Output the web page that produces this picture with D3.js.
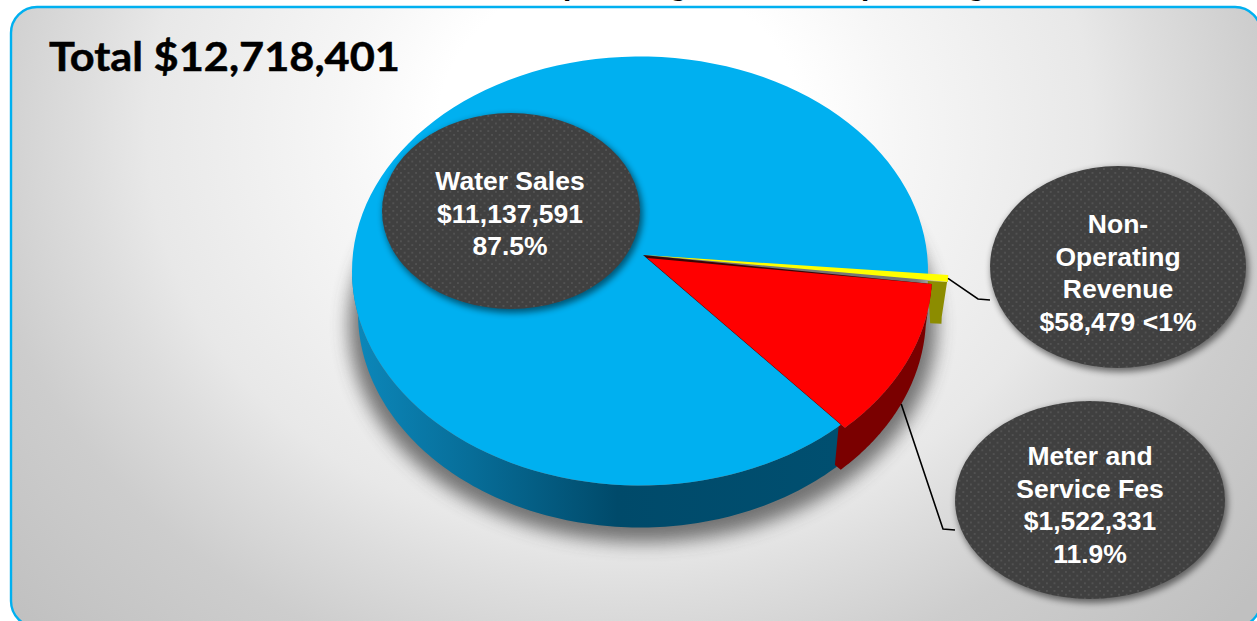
<!DOCTYPE html>
<html>
<head>
<meta charset="utf-8">
<script src="https://cdn.jsdelivr.net/npm/d3@7/dist/d3.min.js"></script>
<style>
html,body{margin:0;padding:0;background:#fff;overflow:hidden}
svg{display:block}
</style>
</head>
<body>
<svg id="chart" width="1257" height="621"></svg>
<script>
// Revenue sources, in the order the slices run clockwise from the right-hand edge
const categories = ["Non-Operating Revenue", "Meter and Service Fes", "Water Sales"];
const revenues = [58479, 1522331, 11137591];
const percentLabels = ["<1%", "11.9%", "87.5%"];
const sliceColors = ["#ffff00", "#ff0000", "#00b0f0"];
const wallColors = ["#8c8c00", "#7a0000", "url(#blueWall)"];
const totalLabel = "Total $12,718,401";
const headingLabel = "Operating and Non-Operating Revenue";

const fmt = d3.format("$,");
const deg = Math.PI / 180;
const svg = d3.select("#chart");
const defs = svg.append("defs");

// Panel gradient: white near the upper middle, grey toward the corners
const bg = defs.append("radialGradient").attr("id", "panelFill")
  .attr("gradientUnits", "userSpaceOnUse")
  .attr("cx", 0).attr("cy", 0).attr("r", 1)
  .attr("gradientTransform", "translate(620,130) scale(830,720)");
[[0, "#ffffff"], [0.22, "#ffffff"], [0.34, "#f6f6f6"], [0.57, "#e8e8e8"], [0.65, "#dddddd"], [0.78, "#cdcdcd"], [1, "#c0c0c0"]]
  .forEach(([o, c]) => bg.append("stop").attr("offset", o).attr("stop-color", c));

const wall = defs.append("linearGradient").attr("id", "blueWall")
  .attr("gradientUnits", "userSpaceOnUse").attr("x1", 352).attr("x2", 835).attr("y1", 0).attr("y2", 0);
[[0, "#0c88bb"], [0.25, "#076d98"], [0.55, "#004a6a"], [1, "#004f70"]]
  .forEach(([o, c]) => wall.append("stop").attr("offset", o).attr("stop-color", c));

// Dotted texture on the callout ellipses
const dots = defs.append("pattern").attr("id", "dots").attr("patternUnits", "userSpaceOnUse")
  .attr("width", 7.6).attr("height", 7.6);
dots.append("rect").attr("width", 7.6).attr("height", 7.6).attr("fill", "#404040");
[[1.9, 1.9], [5.7, 5.7]].forEach(([x, y]) =>
  dots.append("circle").attr("cx", x).attr("cy", y).attr("r", 0.9).attr("fill", "#5a5a5a"));

const blur = (id, s) => defs.append("filter").attr("id", id)
  .attr("x", "-30%").attr("y", "-30%").attr("width", "160%").attr("height", "160%")
  .append("feGaussianBlur").attr("stdDeviation", s);
blur("soft10", 9);
blur("soft4", 3.2);

// Panel
svg.append("rect").attr("x", 11).attr("y", 7).attr("width", 1250).attr("height", 620).attr("rx", 26)
  .attr("fill", "url(#panelFill)").attr("stroke", "#00b0f0").attr("stroke-width", 2.4);

// Heading, pushed mostly above the top of the page; sized so both p's land where they should
const heading = svg.append("text").attr("x", 0).attr("y", -5)
  .attr("font-family", "Lato").attr("font-weight", 700).attr("font-size", 37).attr("fill", "#000")
  .text(headingLabel);
{
  const node = heading.node();
  const first = headingLabel.indexOf("p"), last = headingLabel.lastIndexOf("p");
  const span = node.getStartPositionOfChar(last).x - node.getStartPositionOfChar(first).x;
  heading.attr("font-size", 37 * 298 / span);
  heading.attr("x", 563 - node.getStartPositionOfChar(first).x);
}

svg.append("text").attr("x", 49).attr("y", 71)
  .attr("font-family", "Lato").attr("font-weight", 700).attr("font-size", 40.5)
  .attr("textLength", 351).attr("lengthAdjust", "spacingAndGlyphs")
  .attr("stroke", "#000").attr("stroke-width", 0.5).attr("fill", "#000")
  .text(totalLabel);

// Perspective pie: the rim is an ellipse, the apex sits above the ellipse centre
const rim = {cx: 640, cy: 271, rx: 288, ry: 214.5};
const base = {cx: 640, cy: 313, rx: 282, ry: 214.5};
const apex = {x: 644, y: 255};
const explode = [
  {dx: 0, dy: 0, radius: 1.07, innerTop: 1, innerBase: 1.03},
  {dx: 4, dy: 3, radius: 1, innerTop: 0.97, innerBase: 0.97},
  {dx: 0, dy: 0, radius: 1}
];

const pie = d3.pie().sort(null).startAngle(1 * deg).endAngle(361 * deg);
const arcs = pie(revenues);
const line = d3.line();
const onEllipse = (e, a, k, o) => [e.cx + o.dx + k * e.rx * Math.cos(a), e.cy + o.dy + k * e.ry * Math.sin(a)];
const sweep = (a0, a1) => d3.range(0, 121).map(i => a0 + (a1 - a0) * i / 120);

// Soft drop shadow under the whole pie
svg.append("ellipse").attr("cx", base.cx + 3).attr("cy", base.cy + 12).attr("rx", base.rx + 12).attr("ry", base.ry + 3)
  .attr("fill", "#444").attr("opacity", 0.72).attr("filter", "url(#soft10)");

// Outer walls: blue first, then yellow, then red
[2, 0, 1].forEach(i => {
  const d = arcs[i], o = explode[i];
  const a0 = d.startAngle, a1 = i === 2 ? 180 * deg : d.endAngle;
  const top = sweep(a0, a1).map(a => onEllipse(rim, a, o.radius, o));
  const bottom = sweep(a1, a0).map(a => onEllipse(base, a, o.radius, o));
  const cut = o.innerTop
    ? [onEllipse(rim, a1, o.innerTop, o), onEllipse(base, a1, o.innerBase, o)]
    : [];
  svg.append("path").attr("d", line([...top, ...cut, ...bottom]) + "Z").attr("fill", wallColors[i]);
});

// Wedge faces
[2, 0, 1].forEach(i => {
  const d = arcs[i], o = explode[i];
  const edge = sweep(d.startAngle, d.endAngle).map(a => onEllipse(rim, a, o.radius, o));
  const tip = [apex.x + o.dx * 0.8, apex.y + o.dy];
  if (i === 1) {
    // dark seam where the red slice lifts off the blue one, tapering out along the yellow side
    const under = sweep(d.startAngle, d.endAngle).map((a, j) =>
      onEllipse(rim, a, 1, {dx: o.dx * (1 - j / 120), dy: o.dy * (1 - j / 120)}));
    svg.append("path").attr("d", line([[apex.x - 1, apex.y], ...under]) + "Z")
      .attr("fill", "#3a0505");
  }
  svg.append("path").attr("d", line([tip, ...edge]) + "Z").attr("fill", sliceColors[i]);
});

// Callouts, one per category
const callouts = [
  {cat: 2, cx: 511, cy: 211, rx: 129, ry: 98, lines: ["Water Sales", fmt(revenues[2]), percentLabels[2]], y0: 190},
  {cat: 0, cx: 1118, cy: 267, rx: 128, ry: 101, lines: ["Non-", "Operating", "Revenue", `${fmt(revenues[0])} ${percentLabels[0]}`], y0: 233, leaderY: 300, startOn: rim},
  {cat: 1, cx: 1090, cy: 500, rx: 135, ry: 99, lines: ["Meter and", "Service Fes", fmt(revenues[1]), percentLabels[1]], y0: 465, leaderY: 530, startOn: base}
];

const lineH = 32.5;
callouts.forEach(c => {
  if (c.leaderY) {
    const d = arcs[c.cat], o = explode[c.cat];
    const mid = (d.startAngle + d.endAngle) / 2;
    const end = c.cx - c.rx;
    svg.append("path")
      .attr("d", line([onEllipse(c.startOn, mid, o.radius, o), [end - 12, c.leaderY - 1], [end, c.leaderY]]))
      .attr("fill", "none").attr("stroke", "#000").attr("stroke-width", 1.6);
  }
  svg.append("ellipse").attr("cx", c.cx + 2).attr("cy", c.cy + 3).attr("rx", c.rx + 1).attr("ry", c.ry + 1)
    .attr("fill", "#000").attr("opacity", 0.5).attr("filter", "url(#soft4)");
  svg.append("ellipse").attr("cx", c.cx).attr("cy", c.cy).attr("rx", c.rx).attr("ry", c.ry).attr("fill", "url(#dots)");
  svg.append("g").selectAll("text").data(c.lines).join("text")
    .attr("x", c.cx - (c.cat === 2 ? 1 : 0)).attr("y", (_, i) => c.y0 + i * lineH)
    .attr("text-anchor", "middle")
    .attr("font-family", "'Liberation Sans'").attr("font-weight", 700).attr("font-size", 26.5)
    .attr("fill", "#fff").text(t => t);
});
</script>
</body>
</html>
